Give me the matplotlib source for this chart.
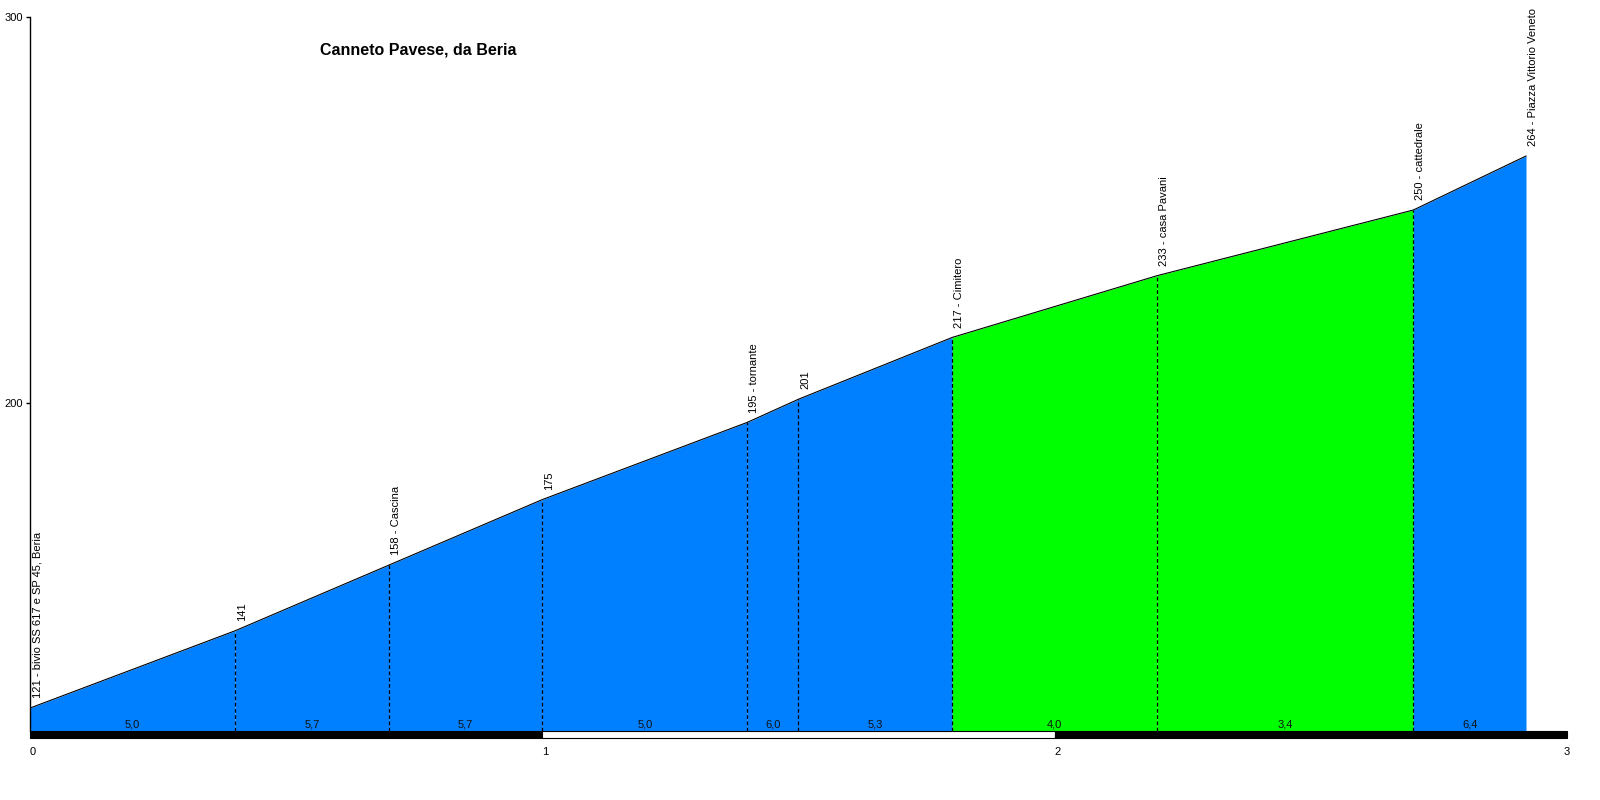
import matplotlib
matplotlib.use("Agg")
import matplotlib.pyplot as plt
import numpy as np

plt.rcParams["font.family"] = ["Liberation Sans", "DejaVu Sans"]

# profile points (km, m)
dist_km = [0.0, 0.4, 0.7, 1.0, 1.4, 1.5, 1.8, 2.2, 2.7, 2.92]
elev_m = [121, 141, 158, 175, 195, 201, 217, 233, 250, 264]
point_names = [
    "121 - bivio SS 617 e SP 45, Beria",
    "141",
    "158 - Cascina",
    "175",
    "195 - tornante",
    "201",
    "217 - Cimitero",
    "233 - casa Pavani",
    "250 - cattedrale",
    "264 - Piazza Vittorio Veneto",
]
# per-segment gradient labels and fill colours
grade_labels = ["5,0", "5,7", "5,7", "5,0", "6,0", "5,3", "4,0", "3,4", "6,4"]
segment_colors = ["#0080ff"] * 6 + ["#00ff00"] * 2 + ["#0080ff"]

title = "Canneto Pavese, da Beria"
x_ticks = [0, 1, 2, 3]
y_ticks = [200, 300]

base_m = 115.0
y_min, y_max = 113.5, 300.0

fig = plt.figure(figsize=(16, 8), dpi=100)
ax = fig.add_axes([30 / 1600, 63 / 800, 1537 / 1600, 720 / 800])
ax.set_xlim(0, 3)
ax.set_ylim(y_min, y_max)

for i in range(len(dist_km) - 1):
    xs = [dist_km[i], dist_km[i + 1]]
    ys = [elev_m[i], elev_m[i + 1]]
    ax.fill_between(xs, ys, base_m, color=segment_colors[i], linewidth=0)
    ax.text(np.mean(xs), base_m + 0.5, grade_labels[i], ha="center", va="bottom",
            fontsize=8, color="#111111")

ax.plot(dist_km, elev_m, color="black", linewidth=0.8)

# dashed markers at the intermediate points
for x, y in zip(dist_km[1:-1], elev_m[1:-1]):
    ax.plot([x, x], [base_m, y], color="black", linewidth=0.9, linestyle=(0, (3, 2)))

for x, y, name in zip(dist_km, elev_m, point_names):
    ax.annotate(name, (x, y), xytext=(1.5, 7), textcoords="offset points",
                rotation=90, ha="left", va="bottom", fontsize=8)

# km scale bar: black / white / black
bar_lo, bar_hi = y_min - 0.2, base_m
for k in range(3):
    face = "white" if k == 1 else "black"
    ax.add_patch(plt.Rectangle((k, bar_lo), 1, bar_hi - bar_lo, facecolor=face,
                               edgecolor="black", linewidth=0.8, clip_on=False))

ax.text(0.757, 291.5, title, fontsize=11.5, fontweight="bold",
        ha="center", va="center")

for spine in ["top", "right", "bottom"]:
    ax.spines[spine].set_visible(False)
ax.spines["left"].set_linewidth(1.0)
ax.spines["left"].set_bounds(base_m, y_max)

ax.set_yticks(y_ticks)
ax.set_yticklabels([str(v) for v in y_ticks], fontsize=8)
ax.tick_params(axis="y", length=3, width=1, pad=2)
ax.set_xticks([])
for xt in x_ticks:
    ax.text(xt, y_min - 2.5, str(xt), ha="left" if xt < 3 else "center", va="top",
            fontsize=8)

fig.savefig("out.png", dpi=100)
